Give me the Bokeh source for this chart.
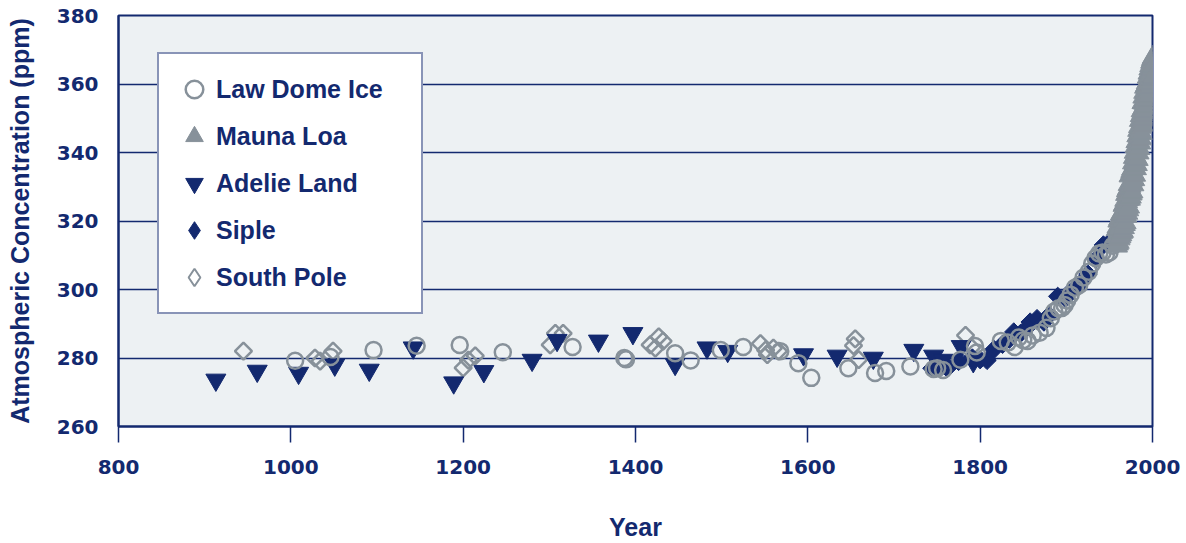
import numpy as np
from bokeh.plotting import figure
from bokeh.models import (Range1d, FixedTicker, Legend, LegendItem)
from bokeh.embed import file_html
from bokeh.resources import INLINE

# ---------------- data ----------------
law_dome_year = [1005, 1046, 1096, 1146, 1196, 1246, 1327, 1387, 1389, 1446, 1464, 1499,
                 1525, 1568, 1589, 1604, 1647, 1678, 1691, 1719, 1746, 1750, 1757, 1777,
                 1794, 1796, 1824, 1832, 1840, 1845, 1850, 1855, 1861, 1869, 1877, 1882,
                 1886, 1891, 1895, 1898, 1901, 1905, 1910, 1915, 1920, 1926, 1930, 1934,
                 1938, 1942, 1946, 1950, 1954, 1959, 1962, 1965, 1968, 1970, 1974, 1978]
law_dome_ppm = [279.2, 280.3, 282.3, 283.6, 283.8, 281.7, 283.2, 280.0, 279.6, 281.4, 279.3, 282.3,
                283.2, 282.0, 278.5, 274.2, 277.0, 275.6, 276.2, 277.5, 276.8, 277.0, 276.5, 279.5,
                283.5, 281.6, 285.0, 284.5, 283.2, 286.0, 285.2, 285.0, 286.6, 287.4, 288.8, 291.6,
                293.6, 294.5, 294.6, 295.5, 296.8, 298.5, 300.5, 301.3, 303.5, 305.2, 307.5, 309.2,
                310.5, 310.8, 310.2, 310.8, 312.8, 315.7, 318.2, 319.5, 323.2, 325.2, 329.5, 335.2]

mauna_loa_year = list(range(1958, 2001))
mauna_loa_high = [317.5, 318.3, 320.0, 320.6, 321.0, 322.1, 322.2, 322.8, 324.6, 325.0,
                  326.1, 327.8, 328.9, 329.4, 330.7, 333.2, 333.5, 334.5, 335.2, 337.0,
                  338.6, 340.1, 341.8, 343.2, 344.9, 346.5, 347.6, 349.4, 350.8, 352.2,
                  354.6, 356.2, 357.6, 359.1, 359.6, 360.4, 362.0, 363.2, 364.4, 365.4,
                  366.4, 367.2, 367.8]
mauna_loa_mean = [315.3, 316.0, 316.9, 317.6, 318.5, 319.0, 319.6, 320.0, 321.4, 322.2,
                  323.0, 324.6, 325.7, 326.3, 327.5, 329.7, 330.2, 331.1, 332.0, 333.8,
                  335.4, 336.8, 338.8, 340.1, 341.5, 343.1, 344.7, 346.1, 347.4, 349.2,
                  351.6, 353.1, 354.4, 355.6, 356.5, 357.1, 358.8, 360.0, 361.4, 362.4,
                  363.6, 364.5, 365.2]
mauna_loa_low = [312.7, 313.3, 313.8, 314.8, 315.4, 316.0, 316.7, 317.0, 318.1, 319.0,
                 319.5, 321.4, 322.3, 323.3, 324.1, 326.4, 327.0, 327.9, 328.5, 330.6,
                 332.1, 333.4, 335.3, 336.5, 338.0, 339.9, 341.2, 342.8, 344.0, 345.6,
                 348.0, 349.7, 351.0, 352.1, 352.7, 353.6, 355.4, 356.6, 358.0, 359.2,
                 360.4, 361.4, 362.2]

adelie_year = [913, 961, 1009, 1051, 1091, 1142, 1189, 1224, 1280, 1309, 1357, 1397,
               1446, 1483, 1507, 1595, 1634, 1676, 1723, 1746, 1757, 1778, 1792]
adelie_ppm = [273.6, 276.2, 275.6, 278.0, 276.5, 283.0, 272.8, 276.1, 279.4, 285.2, 285.0, 287.2,
              278.2, 283.0, 282.0, 281.0, 280.6, 280.0, 282.3, 280.6, 279.4, 283.4, 279.0]

siple_year = [1744, 1754, 1762, 1775, 1791, 1800, 1808, 1816, 1826, 1834, 1839, 1847,
              1853, 1858, 1866, 1874, 1880, 1890, 1899, 1903, 1915, 1925, 1935, 1943, 1953]
siple_ppm = [277.0, 277.2, 277.0, 279.0, 280.0, 279.5, 279.3, 282.5, 284.0, 285.5, 287.6, 287.2,
             288.5, 290.5, 291.5, 290.5, 292.5, 298.0, 297.5, 299.0, 301.5, 304.5, 309.0, 313.0, 314.5]

south_pole_year = [945, 1028, 1034, 1049, 1200, 1206, 1214, 1301, 1307, 1316, 1417, 1423,
                   1427, 1432, 1545, 1551, 1553, 1560, 1566, 1653, 1655, 1659, 1783, 1790]
south_pole_ppm = [282.0, 280.0, 279.1, 282.0, 277.1, 279.4, 280.6, 283.8, 287.2, 287.2, 283.8, 282.9,
                  286.2, 284.9, 284.2, 282.3, 281.0, 282.9, 282.0, 283.6, 285.6, 279.5, 286.6, 283.0]

y_ticks = [260, 280, 300, 320, 340, 360, 380]
x_ticks = [800, 1000, 1200, 1400, 1600, 1800, 2000]

series_labels = ["Law Dome Ice", "Mauna Loa", "Adelie Land", "Siple", "South Pole"]

# ---------------- styles ----------------
NAVY = "#13296f"
GRAY = "#87919a"
BG = "#edf1f3"
TXT_FONT = "Liberation Sans"
NUM_FONT = "DejaVu Sans"

p = figure(width=1186, height=543, output_backend="svg", toolbar_location=None,
           x_range=Range1d(800, 2000), y_range=Range1d(260, 380),
           min_border_left=118, min_border_right=34, min_border_top=15, min_border_bottom=114)
p.background_fill_color = BG
p.border_fill_color = "white"
p.outline_line_color = NAVY
p.outline_line_width = 2

p.xgrid.visible = False
p.ygrid.ticker = FixedTicker(ticks=y_ticks)
p.ygrid.grid_line_color = NAVY
p.ygrid.grid_line_width = 1.5

p.xaxis.ticker = FixedTicker(ticks=x_ticks)
p.yaxis.ticker = FixedTicker(ticks=y_ticks)
for ax in (p.xaxis[0], p.yaxis[0]):
    ax.axis_line_color = NAVY
    ax.axis_line_width = 2
    ax.major_tick_line_color = NAVY
    ax.major_tick_line_width = 1.5
    ax.minor_tick_line_color = None
    ax.major_label_text_font = NUM_FONT
    ax.major_label_text_font_style = "bold"
    ax.major_label_text_font_size = "20px"
    ax.major_label_text_color = NAVY
    ax.axis_label_text_font = TXT_FONT
    ax.axis_label_text_font_style = "bold"
    ax.axis_label_text_font_size = "25px"
    ax.axis_label_text_color = NAVY

p.xaxis.major_tick_out = 16
p.xaxis.major_tick_in = 0
p.xaxis.major_label_standoff = 17
p.xaxis.axis_label = "Year"
p.xaxis.axis_label_standoff = 36

p.yaxis.major_tick_out = 0
p.yaxis.major_tick_in = 0
p.yaxis.major_label_standoff = 20
p.yaxis.axis_label = "Atmospheric Concentration (ppm)"
p.yaxis.axis_label_standoff = 20

# ---------------- glyphs ----------------
r_sp = p.scatter(south_pole_year, south_pole_ppm, marker="square", size=12, angle=np.pi / 4,
                 fill_color=None, line_color=GRAY, line_width=2.5)
r_ad = p.scatter(adelie_year, adelie_ppm, marker="inverted_triangle", size=20,
                 fill_color=NAVY, line_color=NAVY, line_width=1)
r_si = p.scatter(siple_year, siple_ppm, marker="square", size=13, angle=np.pi / 4,
                 fill_color=NAVY, line_color=NAVY, line_width=1)
r_ld = p.scatter(law_dome_year, law_dome_ppm, marker="circle", size=16,
                 fill_color=None, line_color=GRAY, line_width=2.5)

ml_x = ([y + 0.37 for y in mauna_loa_year] + [y + 0.5 for y in mauna_loa_year]
        + [y + 0.8 for y in mauna_loa_year])
ml_y = mauna_loa_high + mauna_loa_mean + mauna_loa_low
r_ml = p.scatter(ml_x, ml_y, marker="triangle", size=21,
                 fill_color=GRAY, line_color=GRAY, line_width=1)

# legend-only twins of the diamond series (size 0: nothing drawn in the plot;
# the legend sizes its glyphs from the legend box)
r_si_leg = p.scatter(siple_year, siple_ppm, marker="diamond", size=0,
                     fill_color=NAVY, line_color=NAVY, line_width=1)
r_sp_leg = p.scatter(south_pole_year, south_pole_ppm, marker="diamond", size=0,
                     fill_color=None, line_color=GRAY, line_width=2)

legend = Legend(items=[
    LegendItem(label=series_labels[0], renderers=[r_ld]),
    LegendItem(label=series_labels[1], renderers=[r_ml]),
    LegendItem(label=series_labels[2], renderers=[r_ad]),
    LegendItem(label=series_labels[3], renderers=[r_si_leg]),
    LegendItem(label=series_labels[4], renderers=[r_sp_leg]),
], location=(39, 112))
legend.glyph_width = 44
legend.glyph_height = 44
legend.spacing = 3
legend.padding = 13
legend.margin = 0
legend.label_standoff = 0
legend.label_width = 192
legend.label_text_font = TXT_FONT
legend.label_text_font_style = "bold"
legend.label_text_font_size = "25px"
legend.label_text_color = NAVY
legend.border_line_color = NAVY
legend.border_line_width = 2
legend.background_fill_color = "white"
legend.background_fill_alpha = 1
p.add_layout(legend, "center")

open("out.html", "w").write(file_html(p, INLINE))
